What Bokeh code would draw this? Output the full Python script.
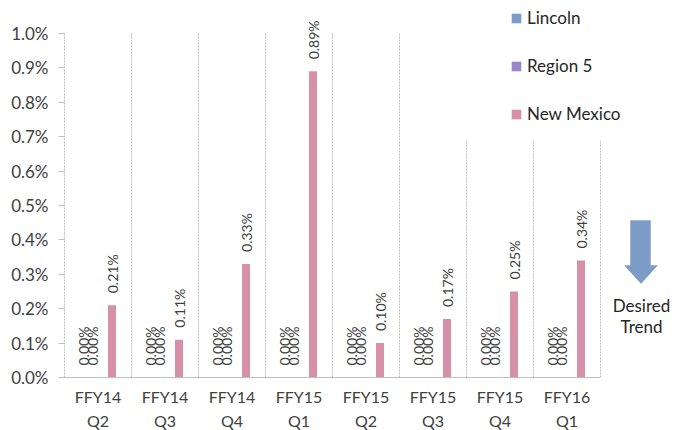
import numpy as np
from bokeh.plotting import figure
from bokeh.models import (Range1d, ColumnDataSource, Legend, LegendItem, FixedTicker,
                          NumeralTickFormatter, SingleIntervalTicker, PolyAnnotation,
                          Label, BoxAnnotation)
from bokeh.core.properties import value
from bokeh.embed import file_html
from bokeh.resources import INLINE

# ---- data ----
quarters = ["FFY14\nQ2", "FFY14\nQ3", "FFY14\nQ4", "FFY15\nQ1",
            "FFY15\nQ2", "FFY15\nQ3", "FFY15\nQ4", "FFY16\nQ1"]
series_names = ["Lincoln", "Region 5", "New Mexico"]
lincoln = [0.0, 0.0, 0.0, 0.0, 0.0, 0.0, 0.0, 0.0]
region5 = [0.0, 0.0, 0.0, 0.0, 0.0, 0.0, 0.0, 0.0]
new_mexico = [0.0021, 0.0011, 0.0033, 0.0089, 0.0010, 0.0017, 0.0025, 0.0034]
y_axis_max = 0.01

# ---- style / layout ----
FONT = "Lato"
colors = ["#7B9CC6", "#9C86C8", "#D690A8"]
offsets = [-0.215, -0.082, 0.209]
TXT = "#404040"
GRID = "#BFBFBF"
n = len(quarters)
centers = np.arange(n) + 0.5          # category centres on a numeric scale
boundaries = np.arange(1, n + 1)      # right edge of every category

FRAME_W, FRAME_H = 612, 377
CAT_PX, PLOT_H = 67, 344
x_end = FRAME_W / CAT_PX
y_end = y_axis_max * FRAME_H / PLOT_H

p = figure(x_range=Range1d(0, x_end), y_range=Range1d(0, y_end),
           frame_width=FRAME_W, frame_height=FRAME_H,
           min_border_left=64, min_border_right=0, min_border_top=0, min_border_bottom=48,
           output_backend="svg", toolbar_location=None)
p.outline_line_color = None
p.xgrid.visible = False
p.ygrid.visible = False
p.background_fill_color = "white"

# category dividers
div_src = ColumnDataSource(dict(x=boundaries, y0=[0.0] * n, y1=[y_axis_max] * n))
p.segment(x0="x", x1="x", y0="y0", y1="y1", source=div_src,
          line_color=GRID, line_width=1, line_dash="2 1")

renderers = []
for name, vals, col, off in zip(series_names, [lincoln, region5, new_mexico], colors, offsets):
    src = ColumnDataSource(dict(x=centers + off, v=vals,
                                lbl=["%.2f%%" % (v * 100) for v in vals]))
    r = p.vbar(x="x", top="v", width=0.12, source=src, fill_color=col, line_color=None)
    renderers.append(r)
    p.text(x="x", y="v", text="lbl", source=src,
           angle=np.pi / 2, text_align="left", text_baseline="middle", y_offset=-12,
           text_font=value(FONT), text_font_size="14px", text_color=TXT)

# white area behind the legend (covers the top of the right-hand dividers)
p.add_layout(BoxAnnotation(left=5.9, bottom=0.0069, fill_color="white", fill_alpha=1.0,
                           line_alpha=0, level="annotation"))

# y axis
p.yaxis.ticker = SingleIntervalTicker(interval=0.001, num_minor_ticks=0)
p.yaxis.formatter = NumeralTickFormatter(format="0.0%")
p.yaxis.bounds = (0, y_axis_max)
p.yaxis.major_tick_out = 6
p.yaxis.major_tick_in = 0
p.yaxis.minor_tick_out = 0
p.yaxis.major_tick_line_color = GRID
p.yaxis.axis_line_color = GRID
p.yaxis.axis_line_dash = "2 1"
p.yaxis.major_label_standoff = 10
p.yaxis.major_label_text_font = FONT
p.yaxis.major_label_text_font_size = "17px"
p.yaxis.major_label_text_color = TXT

# x axis
p.xaxis.ticker = FixedTicker(ticks=list(centers))
p.xaxis.major_label_overrides = {float(c): q for c, q in zip(centers, quarters)}
p.xaxis.bounds = (0, n)
p.xaxis.major_tick_out = 0
p.xaxis.major_tick_in = 0
p.xaxis.minor_tick_out = 0
p.xaxis.axis_line_color = GRID
p.xaxis.major_label_standoff = 9
p.xaxis.major_label_text_font = FONT
p.xaxis.major_label_text_font_size = "16px"
p.xaxis.major_label_text_color = TXT
p.xaxis.major_label_text_line_height = 1.3

legend = Legend(items=[LegendItem(label=s, renderers=[r]) for s, r in zip(series_names, renderers)],
                location=(438, 245), orientation="vertical",
                glyph_width=12, glyph_height=12, label_height=18, spacing=27, padding=8,
                label_standoff=5, label_text_font=FONT, label_text_font_size="17px",
                label_text_color="#262626", background_fill_alpha=0, border_line_alpha=0)
p.add_layout(legend, "center")

# desired trend arrow
arrow = PolyAnnotation(xs=[566, 586, 586, 593, 576.5, 560, 566],
                       ys=[157, 157, 112, 112, 94, 112, 112],
                       xs_units="screen", ys_units="screen",
                       fill_color="#7B9CC6", fill_alpha=1.0, line_color="#5F82B3", line_width=1)
p.add_layout(arrow)
p.add_layout(Label(x=577, y=62, x_units="screen", y_units="screen", text="Desired\nTrend",
                   text_align="center", text_baseline="middle", text_font=FONT,
                   text_font_size="17px", text_color="#262626", text_line_height=1.0))

open("out.html", "w").write(file_html(p, INLINE))
